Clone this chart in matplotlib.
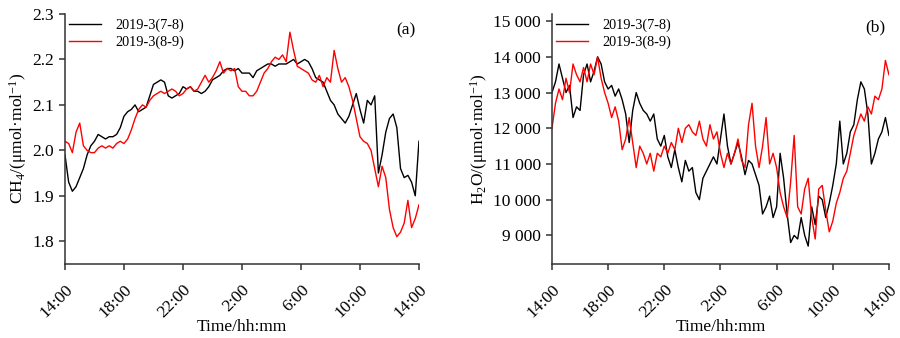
import matplotlib.pyplot as plt
import numpy as np

plt.rcParams['font.family'] = ['Liberation Serif', 'DejaVu Serif']
plt.rcParams['mathtext.fontset'] = 'custom'
plt.rcParams['mathtext.rm'] = 'Liberation Serif'
plt.rcParams['mathtext.it'] = 'Liberation Serif:italic'

# hours since 14:00, 15 min step
hours = np.arange(0, 24.01, 0.25)
tick_hours = [0, 4, 8, 12, 16, 20, 24]
tick_labels = ['14:00', '18:00', '22:00', '2:00', '6:00', '10:00', '14:00']
series_names = ['2019-3(7-8)', '2019-3(8-9)']

ch4_78 = [1.99, 1.93, 1.91, 1.92, 1.94, 1.96, 1.99, 2.01, 2.02, 2.035, 2.03, 2.025,
          2.03, 2.03, 2.035, 2.05, 2.075, 2.085, 2.09, 2.10, 2.085, 2.09, 2.095, 2.12,
          2.145, 2.15, 2.155, 2.15, 2.12, 2.115, 2.12, 2.125, 2.14, 2.135, 2.14, 2.13,
          2.13, 2.125, 2.13, 2.14, 2.155, 2.16, 2.165, 2.175, 2.18, 2.18, 2.175, 2.18,
          2.17, 2.17, 2.17, 2.16, 2.175, 2.18, 2.185, 2.19, 2.19, 2.185, 2.19, 2.19,
          2.19, 2.195, 2.20, 2.19, 2.195, 2.20, 2.195, 2.18, 2.16, 2.155, 2.15, 2.13,
          2.11, 2.10, 2.08, 2.07, 2.06, 2.075, 2.10, 2.125, 2.09, 2.06, 2.11, 2.10,
          2.12, 1.95, 1.99, 2.04, 2.07, 2.08, 2.05, 1.96, 1.94, 1.945, 1.93, 1.90,
          2.02]
ch4_89 = [2.02, 2.015, 1.995, 2.04, 2.06, 2.01, 2.00, 1.995, 1.995, 2.005, 2.01, 2.005,
          2.01, 2.005, 2.015, 2.02, 2.015, 2.025, 2.045, 2.07, 2.09, 2.10, 2.095, 2.11,
          2.12, 2.125, 2.13, 2.125, 2.13, 2.135, 2.13, 2.12, 2.125, 2.135, 2.14, 2.13,
          2.135, 2.15, 2.165, 2.15, 2.16, 2.175, 2.195, 2.17, 2.18, 2.175, 2.18, 2.14,
          2.13, 2.13, 2.12, 2.12, 2.13, 2.15, 2.17, 2.18, 2.195, 2.205, 2.20, 2.21,
          2.195, 2.26, 2.22, 2.185, 2.18, 2.175, 2.17, 2.155, 2.15, 2.165, 2.14, 2.16,
          2.15, 2.22, 2.18, 2.15, 2.16, 2.14, 2.11, 2.07, 2.03, 2.02, 2.015, 2.00,
          1.96, 1.92, 1.965, 1.94, 1.87, 1.83, 1.81, 1.82, 1.84, 1.89, 1.83, 1.85,
          1.88]

h2o_78 = [13000, 13300, 13800, 13400, 13000, 13200, 12300, 12600, 12500, 13500, 13800, 13300,
          13600, 14000, 13800, 13300, 13100, 13200, 12900, 13100, 12800, 12400, 11600, 12500,
          13000, 12700, 12500, 12400, 12200, 12400, 11700, 11500, 11800, 11200, 10900, 11400,
          10900, 10500, 11100, 10800, 10900, 10200, 10000, 10600, 10800, 11000, 11200, 11000,
          11700, 12400, 11500, 11000, 11300, 11600, 11200, 10700, 11100, 11000, 10700, 10400,
          9600, 9800, 10100, 9500, 9800, 11300, 10600, 9600, 8800, 9000, 8900, 9500,
          9000, 8700, 9800, 9300, 10100, 10000, 9500, 9900, 10400, 11000, 12200, 11000,
          11300, 11900, 12100, 12800, 13300, 13100, 12400, 11000, 11300, 11700, 11900, 12300,
          11800]
h2o_89 = [12000, 12700, 13100, 12800, 13400, 13000, 13800, 13500, 13300, 13700, 13300, 13800,
          13500, 14000, 13400, 13000, 12700, 12300, 12600, 12200, 11400, 11700, 12300, 11600,
          10900, 11500, 11300, 11000, 11300, 10800, 11300, 11200, 11500, 11300, 11600, 11400,
          12000, 11600, 12000, 12100, 11900, 11800, 12200, 11700, 11500, 12100, 11700, 11900,
          11300, 10900, 11300, 11000, 11300, 11700, 11100, 10900, 12100, 12700, 11500, 10900,
          11500, 12300, 11000, 11300, 10900, 10200, 9800, 9500, 10500, 11800, 9800, 9600,
          10300, 10600, 9500, 8900, 10300, 10400, 9700, 9100, 9400, 9900, 10200, 10600,
          10800, 11300, 11800, 12100, 12400, 12200, 12600, 12400, 12900, 12800, 13100, 13900,
          13500]

fig = plt.figure(figsize=(9, 3.38), dpi=100)
ax1 = fig.add_axes([0.0722, 0.219, 0.3933, 0.7396])
ax2 = fig.add_axes([0.6133, 0.219, 0.3744, 0.7396])

spine_col = '#333333'
fs = 12.5


def style_axes(ax):
    for s in ['top', 'right']:
        ax.spines[s].set_visible(False)
    for s in ['left', 'bottom']:
        ax.spines[s].set_color(spine_col)
        ax.spines[s].set_linewidth(1.1)
    ax.tick_params(direction='out', length=4, width=1.1, color=spine_col,
                   labelsize=fs)
    ax.tick_params(axis='y', pad=4)
    ax.tick_params(axis='x', pad=9)
    ax.set_xlim(0, 24)
    ax.set_xticks(tick_hours)
    ax.set_xticklabels(tick_labels, rotation=45, ha='right', rotation_mode='anchor')
    ax.set_xlabel('Time/hh:mm', fontsize=fs, labelpad=-2)


def add_legend(ax):
    ax.legend(loc='upper left', bbox_to_anchor=(0.0, 1.0), frameon=False, fontsize=10.3,
              handlelength=2.2, handletextpad=1.0, labelspacing=0.25,
              borderaxespad=0.0, borderpad=0.3)


ax1.plot(hours, ch4_78, color='black', lw=1.0, label=series_names[0])
ax1.plot(hours, ch4_89, color='red', lw=1.0, label=series_names[1])
style_axes(ax1)
ax1.set_ylim(1.75, 2.3)
ax1.set_yticks([1.8, 1.9, 2.0, 2.1, 2.2, 2.3])
ax1.set_yticklabels(['1.8', '1.9', '2.0', '2.1', '2.2', '2.3'])
ax1.set_ylabel(r'CH$_4$/(μmol·mol$^{-1}$)', fontsize=fs, labelpad=2)
ax1.text(0.99, 0.936, '(a)', transform=ax1.transAxes, fontsize=fs, ha='right', va='center')
add_legend(ax1)

ax2.plot(hours, h2o_78, color='black', lw=1.0, label=series_names[0])
ax2.plot(hours, h2o_89, color='red', lw=1.0, label=series_names[1])
style_axes(ax2)
ax2.set_ylim(8200, 15200)
yt = [9000, 10000, 11000, 12000, 13000, 14000, 15000]
ax2.set_yticks(yt)
ax2.set_yticklabels([f'{v // 1000} {v % 1000:03d}' for v in yt])
ax2.set_ylabel(r'H$_2$O/(μmol·mol$^{-1}$)', fontsize=fs, labelpad=2)
ax2.text(0.99, 0.948, '(b)', transform=ax2.transAxes, fontsize=fs, ha='right', va='center')
add_legend(ax2)

fig.savefig('out.png', dpi=100)
